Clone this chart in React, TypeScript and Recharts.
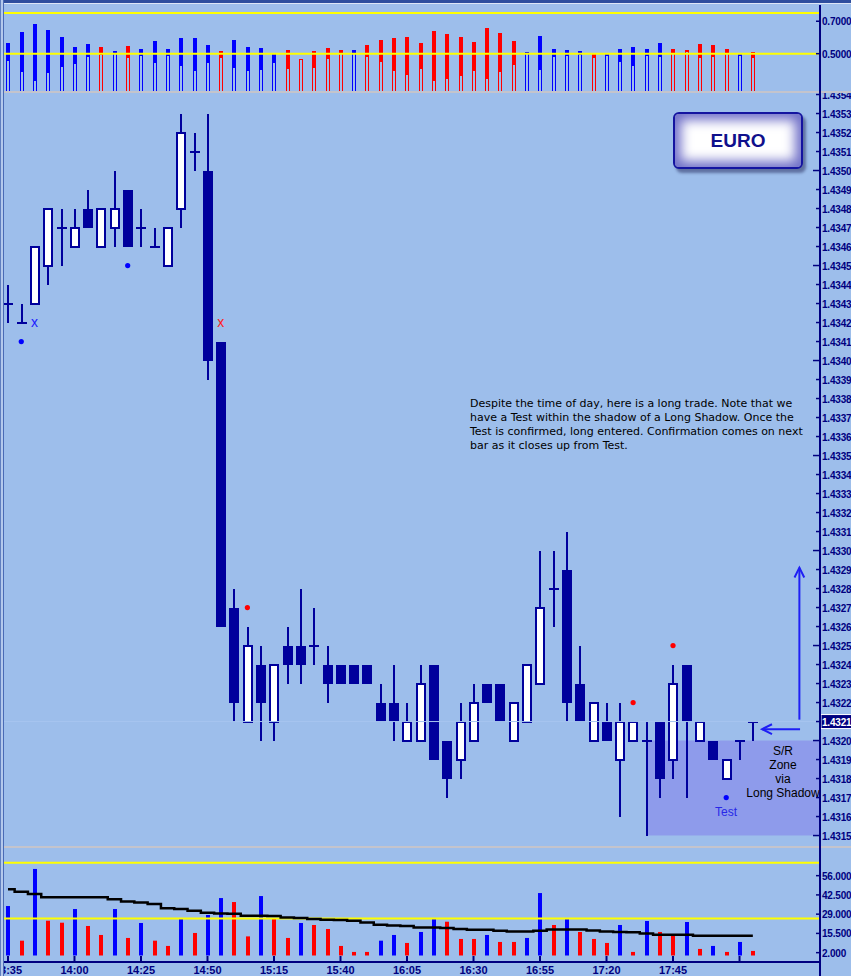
import React from "react";
import {
  ComposedChart,
  Bar,
  Line,
  Scatter,
  XAxis,
  YAxis,
  ReferenceLine,
  ReferenceArea,
} from "recharts";

// 5-minute bars, 13:35 .. 18:15
const times = [
  "13:35", "13:40", "13:45", "13:50", "13:55", "14:00", "14:05", "14:10", "14:15", "14:20",
  "14:25", "14:30", "14:35", "14:40", "14:45", "14:50", "14:55", "15:00", "15:05", "15:10",
  "15:15", "15:20", "15:25", "15:30", "15:35", "15:40", "15:45", "15:50", "15:55", "16:00",
  "16:05", "16:10", "16:15", "16:20", "16:25", "16:30", "16:35", "16:40", "16:45", "16:50",
  "16:55", "17:00", "17:05", "17:10", "17:15", "17:20", "17:25", "17:30", "17:35", "17:40",
  "17:45", "17:50", "17:55", "18:00", "18:05", "18:10", "18:15",
];

const opens = [
  1.4343, 1.4342, 1.4343, 1.4345, 1.4347, 1.4346, 1.4348, 1.4346, 1.4347, 1.4349,
  1.4347, 1.4346, 1.4345, 1.4348, 1.4351, 1.435, 1.4341, 1.4327, 1.4321, 1.4324,
  1.4321, 1.4325, 1.4325, 1.4325, 1.4324, 1.4324, 1.4324, 1.4324, 1.4322, 1.4322,
  1.432, 1.432, 1.4324, 1.432, 1.4319, 1.432, 1.4323, 1.4323, 1.432, 1.4321,
  1.4323, 1.4328, 1.4329, 1.4323, 1.432, 1.4321, 1.4319, 1.432, 1.432, 1.4321,
  1.4319, 1.4324, 1.432, 1.432, 1.4318, 1.432, 1.4321,
];
const highs = [
  1.4344, 1.4343, 1.4346, 1.4348, 1.4348, 1.4348, 1.4349, 1.4348, 1.435, 1.4349,
  1.4348, 1.4347, 1.4347, 1.4353, 1.4352, 1.4353, 1.4341, 1.4328, 1.4326, 1.4325,
  1.4324, 1.4326, 1.4328, 1.4327, 1.4325, 1.4324, 1.4324, 1.4324, 1.4323, 1.4324,
  1.4322, 1.4324, 1.4324, 1.432, 1.4322, 1.4323, 1.4323, 1.4323, 1.4322, 1.4324,
  1.433, 1.433, 1.4331, 1.4325, 1.4322, 1.4322, 1.4322, 1.4321, 1.4321, 1.4321,
  1.4324, 1.4324, 1.4321, 1.432, 1.4319, 1.432, 1.4321,
];
const lows = [
  1.4342, 1.4342, 1.4343, 1.4344, 1.4345, 1.4346, 1.4347, 1.4346, 1.4346, 1.4346,
  1.4346, 1.4346, 1.4345, 1.4347, 1.435, 1.4339, 1.4326, 1.4321, 1.4321, 1.432,
  1.432, 1.4323, 1.4323, 1.4324, 1.4322, 1.4323, 1.4323, 1.4323, 1.4321, 1.432,
  1.432, 1.432, 1.4319, 1.4317, 1.4318, 1.432, 1.4322, 1.4321, 1.432, 1.4321,
  1.4323, 1.4326, 1.4321, 1.4321, 1.432, 1.432, 1.4316, 1.432, 1.4315, 1.4317,
  1.4318, 1.4317, 1.432, 1.4319, 1.4318, 1.4319, 1.432,
];
const closes = [
  1.4343, 1.4342, 1.4346, 1.4348, 1.4347, 1.4347, 1.4347, 1.4348, 1.4348, 1.4346,
  1.4347, 1.4346, 1.4347, 1.4352, 1.4351, 1.434, 1.4326, 1.4322, 1.4325, 1.4322,
  1.4324, 1.4324, 1.4324, 1.4325, 1.4323, 1.4323, 1.4323, 1.4323, 1.4321, 1.4321,
  1.4321, 1.4323, 1.4319, 1.4318, 1.4321, 1.4322, 1.4322, 1.4321, 1.4322, 1.4324,
  1.4327, 1.4328, 1.4322, 1.4321, 1.4322, 1.432, 1.4321, 1.4321, 1.432, 1.4318,
  1.4323, 1.4321, 1.4321, 1.4319, 1.4319, 1.432, 1.4321,
];

// oscillator pane: bar top, start of the filled part, colour (b = blue, r = red)
const oscTop = [
  0.565, 0.633, 0.683, 0.646, 0.602, 0.54, 0.559, 0.54, 0.515, 0.546,
  0.527, 0.577, 0.527, 0.596, 0.596, 0.552, 0.515, 0.583, 0.54, 0.534,
  0.496, 0.521, 0.465, 0.515, 0.534, 0.521, 0.521, 0.552, 0.583, 0.596,
  0.602, 0.565, 0.64, 0.621, 0.602, 0.571, 0.658, 0.627, 0.577, 0.509,
  0.608, 0.527, 0.521, 0.515, 0.502, 0.496, 0.527, 0.54, 0.527, 0.565,
  0.527, 0.521, 0.559, 0.552, 0.527, 0.496, 0.509,
];
const oscMid = [
  0.461, 0.388, 0.336, 0.382, 0.419, 0.438, 0.481, 0.494, 0.5, 0.475,
  0.488, 0.444, 0.488, 0.425, 0.394, 0.444, 0.475, 0.413, 0.394, 0.4,
  0.444, 0.407, 0.465, 0.413, 0.469, 0.5, 0.5, 0.481, 0.45, 0.394,
  0.369, 0.407, 0.332, 0.344, 0.363, 0.394, 0.35, 0.388, 0.431, 0.5,
  0.4, 0.481, 0.488, 0.494, 0.475, 0.488, 0.45, 0.425, 0.488, 0.481,
  0.509, 0.515, 0.475, 0.481, 0.509, 0.49, 0.475,
];
const oscSide = "bbbbbbbrbrbbbbbbrbbbbrrrrrbrrrrrrrrrrrrbbbbbrbbbbbrrrrrbr".split("");

const volumes = [
  34.7, 10.4, 60.7, 24.4, 23.0, 32.6, 20.7, 14.4, 32.6, 12.3,
  22.8, 10.4, 6.7, 26.3, 15.8, 28.4, 40.3, 37.5, 13.4, 41.7,
  26.3, 12.3, 22.8, 21.4, 18.6, 6.7, 2.5, 2.5, 10.4, 14.4,
  8.8, 16.5, 25.6, 23.7, 11.6, 11.6, 14.4, 9.5, 9.5, 12.3,
  43.8, 21.4, 26.3, 16.5, 11.6, 8.8, 21.4, 2.5, 24.2, 16.5,
  13.7, 23.5, 4.6, 6.7, 2.5, 9.5, 3.2,
];
const volSide = "brbrrbrrbrbrrbrbbrrbrrbrrrrrbbrbbrrrbrrbbrbrrrbrbrrbrbrbr".split("");
const volAverage = [
  46.4, 44.8, 43.1, 40.8, 40.8, 40.8, 40.8, 40.8, 39.4, 37.8,
  37.1, 36.1, 33.1, 32.6, 31.4, 30.0, 29.5, 29.3, 27.9, 27.9,
  27.7, 26.7, 26.3, 25.6, 25.1, 24.9, 24.4, 23.2, 21.6, 21.1,
  20.7, 19.7, 19.7, 19.3, 18.6, 18.1, 18.1, 17.4, 16.9, 16.9,
  17.4, 18.3, 18.3, 18.3, 17.6, 16.9, 16.5, 16.3, 15.5, 14.6,
  14.6, 14.6, 13.9, 13.9, 13.9, 13.9, 13.9,
];

// signal markers: bar index and price
const blueDots = [{ i: 1, p: 1.4341 }, { i: 9, p: 1.4345 }, { i: 54, p: 1.4317 }];
const redDots = [{ i: 18, p: 1.4327 }, { i: 47, p: 1.4322 }, { i: 50, p: 1.4325 }];
const blueCrosses = [{ i: 2, p: 1.4342 }];
const redCrosses = [{ i: 16, p: 1.4342 }];

const priceTicks = [
  1.4315, 1.4316, 1.4317, 1.4318, 1.4319, 1.432, 1.4321, 1.4322, 1.4323, 1.4324,
  1.4325, 1.4326, 1.4327, 1.4328, 1.4329, 1.433, 1.4331, 1.4332, 1.4333, 1.4334,
  1.4335, 1.4336, 1.4337, 1.4338, 1.4339, 1.434, 1.4341, 1.4342, 1.4343, 1.4344,
  1.4345, 1.4346, 1.4347, 1.4348, 1.4349, 1.435, 1.4351, 1.4352, 1.4353, 1.4354,
];
const oscTicks = [0.3, 0.5, 0.7];
const volTicks = [2, 15.5, 29, 42.5, 56];
const timeTicks = [0, 5, 10, 15, 20, 25, 30, 35, 40, 45, 50, 55];
const lastPrice = 1.4321;

const rows = times.map((t, i) => ({
  i,
  t,
  open: opens[i],
  high: highs[i],
  low: lows[i],
  close: closes[i],
  oscTop: oscTop[i],
  oscMid: oscMid[i],
  oscSide: oscSide[i],
  vol: volumes[i],
  volSide: volSide[i],
  volAvg: volAverage[i],
}));

const BG = "#9DBEEB";
const NAVY = "#000080";
const CANDLE = "#00009C";
const BLUE = "#0000FF";
const RED = "#FF0000";
const YELLOW = "#FFFF00";
const FONT = '"Liberation Sans", Arial, sans-serif';
const X_DOMAIN: [number, number] = [-0.6, 61.05];
const OSC_MIN = 0.27;

const sideColor = (s: string) => (s === "b" ? BLUE : RED);

const Candle = (props: any) => {
  const { x, y, width, height, payload } = props;
  const { open, close, high, low } = payload;
  const cx = Math.round(x + width / 2);
  const py = (p: number) => y + ((high - p) / (high - low)) * height;
  const top = py(Math.max(open, close));
  const bot = py(Math.min(open, close));
  return (
    <g shapeRendering="crispEdges">
      <line x1={cx} x2={cx} y1={y} y2={y + height} stroke={CANDLE} strokeWidth={2} />
      {open === close ? (
        <line x1={cx - 5} x2={cx + 5} y1={top} y2={top} stroke={CANDLE} strokeWidth={2} />
      ) : close > open ? (
        <rect x={cx - 4} y={top} width={8} height={bot - top} fill="#fff" stroke={CANDLE} strokeWidth={2} />
      ) : (
        <rect x={cx - 5} y={top} width={10} height={bot - top} fill={CANDLE} />
      )}
    </g>
  );
};

const OscBar = (props: any) => {
  const { x, y, width, height, payload } = props;
  const col = sideColor(payload.oscSide);
  const cx = Math.round(x + width / 2);
  const midY = y + ((payload.oscTop - payload.oscMid) / (payload.oscTop - OSC_MIN)) * height;
  return (
    <g shapeRendering="crispEdges">
      <rect x={cx - 1.5} y={midY} width={3} height={y + height - midY} fill="none" stroke={col} strokeWidth={1} />
      <rect x={cx - 2} y={y} width={4} height={midY - y} fill={col} />
    </g>
  );
};

const VolBar = (props: any) => {
  const { x, y, width, height, payload } = props;
  const cx = Math.round(x + width / 2);
  return <rect x={cx - 2} y={y} width={4} height={height} fill={sideColor(payload.volSide)} />;
};

const makeAxisTick = (digits: number, majorEvery?: number) => (props: any) => {
  const { x, y, payload } = props;
  const v: number = payload.value;
  const major = majorEvery ? Math.round(v * 10000) % majorEvery === 0 : false;
  const current = digits === 4 && majorEvery && Math.abs(v - lastPrice) < 1e-7;
  return (
    <g>
      <line x1={x - (major ? 7 : 4)} x2={x} y1={y} y2={y} stroke={NAVY} strokeWidth={1.5} />
      {current && <rect x={x + 1} y={y - 7} width={31} height={14} fill={NAVY} stroke="#fff" strokeWidth={1} />}
      <text
        x={x + 2}
        y={y + 4}
        fill={current ? "#fff" : NAVY}
        fontSize={10}
        fontWeight="bold"
        letterSpacing={-0.2}
        fontFamily={FONT}
      >
        {v.toFixed(digits)}
      </text>
    </g>
  );
};

const PriceTick = makeAxisTick(4, 5);
const OscTick = makeAxisTick(4);
const VolTick = makeAxisTick(3);

const TimeTick = (props: any) => {
  const { x, y, payload } = props;
  const label = payload.value < 55 ? times[payload.value] : "";
  return (
    <g>
      <line x1={x} x2={x} y1={y - 6} y2={y} stroke={NAVY} strokeWidth={2} />
      <text x={x} y={y + 12} textAnchor="middle" fill={NAVY} fontSize={11} fontWeight="bold" fontFamily={FONT}>
        {label}
      </text>
    </g>
  );
};

const Arrow = (props: any) => {
  const { x1, y1, x2, y2 } = props;
  const ang = Math.atan2(y2 - y1, x2 - x1);
  const len = 11;
  const spread = 0.46;
  const a = [x2 - len * Math.cos(ang - spread), y2 - len * Math.sin(ang - spread)];
  const b = [x2 - len * Math.cos(ang + spread), y2 - len * Math.sin(ang + spread)];
  return (
    <g stroke="#1F1FF5" strokeWidth={2} fill="none">
      <line x1={x1} y1={y1} x2={x2} y2={y2} />
      <polyline points={`${a[0]},${a[1]} ${x2},${y2} ${b[0]},${b[1]}`} />
    </g>
  );
};

const dotShape = (color: string) => (props: any) => <circle cx={props.cx} cy={props.cy} r={2.6} fill={color} />;
const crossShape = (color: string) => (props: any) => (
  <text x={props.cx} y={props.cy + 4} textAnchor="middle" fill={color} fontSize={14} fontFamily={FONT}>
    x
  </text>
);

const noteLines = [
  "Despite the time of day, here is a long trade. Note that we",
  "have a Test within the shadow of a Long Shadow. Once the",
  "Test is confirmed, long entered. Confirmation comes on next",
  "bar as it closes up from Test.",
];
const zoneLines = ["S/R", "Zone", "via", "Long Shadow"];

const abs = (left: number, top: number, extra: React.CSSProperties = {}): React.CSSProperties => ({
  position: "absolute",
  left,
  top,
  ...extra,
});

export default function App() {
  return (
    <div style={abs(0, 0, { width: 851, height: 976, overflow: "hidden", background: BG, fontFamily: FONT })}>
      {/* oscillator pane */}
      <div style={abs(0, 5)}>
        <ComposedChart width={851} height={86} data={rows} margin={{ top: 0, right: 0, bottom: 0, left: 0 }}>
          <XAxis dataKey="i" type="number" domain={X_DOMAIN} allowDataOverflow hide />
          <YAxis
            orientation="right"
            width={31}
            domain={[OSC_MIN, 0.8]}
            allowDataOverflow
            ticks={oscTicks}
            tick={OscTick}
            tickSize={0}
            tickMargin={0}
            axisLine={false}
            tickLine={false}
          />
          <ReferenceLine y={0.75} stroke={YELLOW} strokeWidth={2} />
          <ReferenceLine y={0.5} stroke={YELLOW} strokeWidth={2} />
          <Bar dataKey={(d: any) => [OSC_MIN, d.oscTop]} barSize={6} shape={OscBar} isAnimationActive={false} />
        </ComposedChart>
      </div>

      {/* price pane */}
      <div style={abs(0, 93)}>
        <ComposedChart width={851} height={753} data={rows} margin={{ top: 0, right: 0, bottom: 0, left: 0 }}>
          <XAxis dataKey="i" type="number" domain={X_DOMAIN} allowDataOverflow hide />
          <YAxis
            orientation="right"
            width={31}
            domain={[1.431445, 1.435408]}
            allowDataOverflow
            ticks={priceTicks}
            interval={0}
            tick={PriceTick}
            tickSize={0}
            tickMargin={0}
            axisLine={false}
            tickLine={false}
          />
          <ReferenceArea x1={48} x2={X_DOMAIN[1]} y1={1.4315} y2={1.432} fill="#725DEB" fillOpacity={0.35} stroke="none" />
          <Bar dataKey={(d: any) => [d.low, d.high]} barSize={12} shape={Candle} isAnimationActive={false} />
          <ReferenceLine y={lastPrice} stroke="#A7C5EF" strokeWidth={1} />
          <Scatter data={blueDots} dataKey="p" shape={dotShape(BLUE)} isAnimationActive={false} />
          <Scatter data={redDots} dataKey="p" shape={dotShape(RED)} isAnimationActive={false} />
          <Scatter data={blueCrosses} dataKey="p" shape={crossShape("#2020FF")} isAnimationActive={false} />
          <Scatter data={redCrosses} dataKey="p" shape={crossShape("#FF2020")} isAnimationActive={false} />
          <ReferenceLine
            segment={[{ x: 59.5, y: 1.43211 }, { x: 59.5, y: 1.43291 }]}
            shape={Arrow}
          />
          <ReferenceLine
            segment={[{ x: 59.55, y: 1.43206 }, { x: 56.7, y: 1.43206 }]}
            shape={Arrow}
          />
        </ComposedChart>
      </div>

      {/* volume pane with time axis */}
      <div style={abs(0, 848)}>
        <ComposedChart width={851} height={128} data={rows} margin={{ top: 0, right: 0, bottom: 0, left: 0 }}>
          <XAxis
            dataKey="i"
            type="number"
            domain={X_DOMAIN}
            allowDataOverflow
            ticks={timeTicks}
            interval={0}
            height={14}
            tick={TimeTick}
            tickSize={0}
            tickMargin={0}
            axisLine={{ stroke: NAVY, strokeWidth: 2 }}
            tickLine={false}
          />
          <YAxis
            orientation="right"
            width={31}
            domain={[-4.56, 75.4]}
            allowDataOverflow
            ticks={volTicks}
            interval={0}
            tick={VolTick}
            tickSize={0}
            tickMargin={0}
            axisLine={false}
            tickLine={false}
          />
          <ReferenceLine y={65} stroke={YELLOW} strokeWidth={2} />
          <ReferenceLine y={26} stroke={YELLOW} strokeWidth={2} />
          <Bar dataKey="vol" barSize={6} shape={VolBar} isAnimationActive={false} />
          <Line dataKey="volAvg" type="step" stroke="#000" strokeWidth={2.5} dot={false} isAnimationActive={false} />
        </ComposedChart>
      </div>

      {/* pane separators, frame and price axis line */}
      <div style={abs(0, 91, { width: 851, height: 2, background: "#C4C4CC" })} />
      <div style={abs(0, 846, { width: 851, height: 2, background: "#C4C4CC" })} />
      <div style={abs(819, 5, { width: 2, height: 971, background: NAVY })} />
      <div style={abs(0, 0, { width: 851, height: 3, background: "#2E4E9E" })} />
      <div style={abs(0, 3, { width: 851, height: 1, background: "#DDE6F6" })} />
      <div style={abs(0, 0, { width: 1, height: 976, background: "#5F7FC0" })} />
      <div style={abs(1, 0, { width: 2, height: 976, background: "#B4C9EC" })} />
      <div style={abs(3, 0, { width: 1, height: 976, background: "#4A6BB5" })} />

      {/* title box */}
      <div
        style={abs(673, 112, {
          width: 126,
          height: 53,
          border: "2px solid #1414A0",
          borderRadius: 6,
          background: "#fff",
          boxShadow: "inset 0 0 12px 6px #7070C8, 3px 4px 3px rgba(20,20,70,0.45)",
          display: "flex",
          alignItems: "center",
          justifyContent: "center",
          color: "#10108C",
          fontWeight: "bold",
          fontSize: 19,
        })}
      >
        EURO
      </div>

      {/* trade note */}
      <div
        style={abs(470, 397, {
          fontFamily: '"DejaVu Sans", Verdana, sans-serif',
          fontSize: 11,
          lineHeight: "14px",
          color: "#000",
          whiteSpace: "pre",
        })}
      >
        {noteLines.map((l) => (
          <div key={l}>{l}</div>
        ))}
      </div>
      <div style={abs(733, 744, { width: 100, textAlign: "center", fontSize: 12, lineHeight: "14px", color: "#000" })}>
        {zoneLines.map((l) => (
          <div key={l}>{l}</div>
        ))}
      </div>
      <div style={abs(706, 805, { width: 40, textAlign: "center", fontSize: 12, color: "#2828E8" })}>Test</div>
    </div>
  );
}
